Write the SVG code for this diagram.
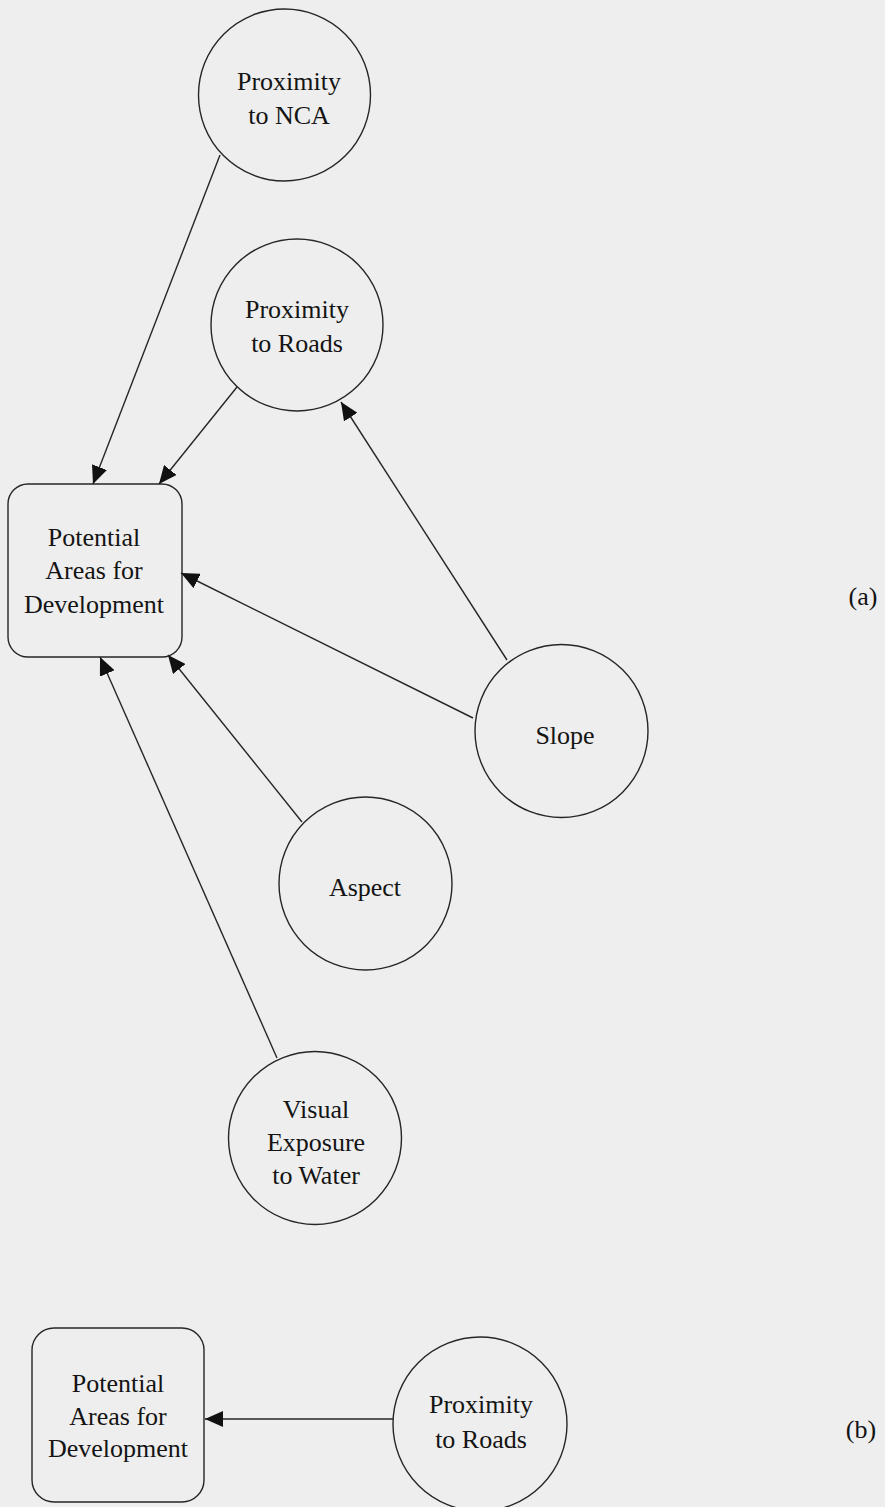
<svg xmlns="http://www.w3.org/2000/svg" width="885" height="1507" viewBox="0 0 885 1507">
  <style>
    .node { fill: none; stroke: #262626; stroke-width: 1.4; }
    .edge { fill: none; stroke: #262626; stroke-width: 1.4; }
    .lbl { font-family: "Liberation Serif", "Times New Roman", serif; font-size: 26px; fill: #141414; text-anchor: middle; }
  </style>
  <defs>
    <marker id="arrow" markerUnits="userSpaceOnUse" markerWidth="20" markerHeight="16" refX="18" refY="8" orient="auto">
      <path d="M0,0 L18,8 L0,16 z" fill="#111111"/>
    </marker>
  </defs>
  <rect x="0" y="0" width="885" height="1507" fill="#eeeeee"/>

  <g id="connectors">
    <line class="edge" x1="220" y1="155" x2="93" y2="484" marker-end="url(#arrow)"/>
    <line class="edge" x1="237" y1="387" x2="159" y2="484" marker-end="url(#arrow)"/>
    <line class="edge" x1="507" y1="660" x2="341" y2="402" marker-end="url(#arrow)"/>
    <line class="edge" x1="473" y1="718" x2="181" y2="573" marker-end="url(#arrow)"/>
    <line class="edge" x1="302" y1="822" x2="168" y2="655" marker-end="url(#arrow)"/>
    <line class="edge" x1="277" y1="1058" x2="100" y2="657" marker-end="url(#arrow)"/>
    <line class="edge" x1="393" y1="1419" x2="205" y2="1419" marker-end="url(#arrow)"/>
  </g>

  <g id="node-nca">
    <circle class="node" cx="284.5" cy="95" r="86"/>
    <text class="lbl" x="289" y="90">Proximity</text>
    <text class="lbl" x="289" y="124">to NCA</text>
  </g>
  <g id="node-roads">
    <circle class="node" cx="297" cy="325" r="86"/>
    <text class="lbl" x="297" y="318">Proximity</text>
    <text class="lbl" x="297" y="352">to Roads</text>
  </g>
  <g id="node-pad">
    <rect class="node" x="8" y="484" width="174" height="173" rx="20" ry="20"/>
    <text class="lbl" x="94" y="546">Potential</text>
    <text class="lbl" x="94" y="579">Areas for</text>
    <text class="lbl" x="94" y="613">Development</text>
  </g>
  <g id="node-slope">
    <circle class="node" cx="561.5" cy="731" r="86.5"/>
    <text class="lbl" x="565" y="744">Slope</text>
  </g>
  <g id="node-aspect">
    <circle class="node" cx="365.5" cy="883.5" r="86.5"/>
    <text class="lbl" x="365" y="896">Aspect</text>
  </g>
  <g id="node-visual">
    <circle class="node" cx="315" cy="1138" r="86.5"/>
    <text class="lbl" x="316" y="1118">Visual</text>
    <text class="lbl" x="316" y="1151">Exposure</text>
    <text class="lbl" x="316" y="1184">to Water</text>
  </g>
  <g id="label-a">
    <text class="lbl" x="863" y="605">(a)</text>
  </g>

  <g id="node-pad-b">
    <rect class="node" x="32" y="1328" width="172" height="174" rx="22" ry="22"/>
    <text class="lbl" x="118" y="1392">Potential</text>
    <text class="lbl" x="118" y="1425">Areas for</text>
    <text class="lbl" x="118" y="1457">Development</text>
  </g>
  <g id="node-roads-b">
    <circle class="node" cx="480" cy="1424" r="87"/>
    <text class="lbl" x="481" y="1413">Proximity</text>
    <text class="lbl" x="481" y="1448">to Roads</text>
  </g>
  <g id="label-b">
    <text class="lbl" x="861" y="1438">(b)</text>
  </g>
</svg>
